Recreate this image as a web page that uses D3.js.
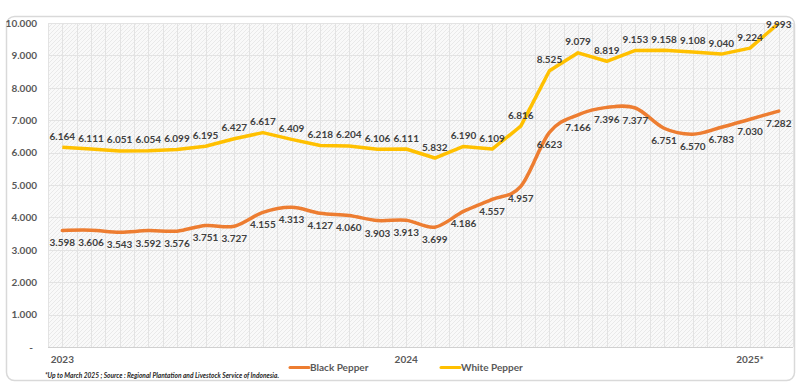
<!DOCTYPE html>
<html>
<head>
<meta charset="utf-8">
<script src="https://cdn.jsdelivr.net/npm/d3@7"></script>
<style>
	body { margin: 0; background: #fff; }
	svg { display: block; font-family: Lato, "Open Sans", sans-serif; }
</style>
</head>
<body>
<svg id="chart"></svg>
<script>
// monthly prices, Jan 2023 .. Feb 2025
var periods = [
	"Jan-23", "Feb-23", "Mar-23", "Apr-23", "May-23", "Jun-23", "Jul-23", "Aug-23", "Sep-23", "Oct-23", "Nov-23", "Dec-23",
	"Jan-24", "Feb-24", "Mar-24", "Apr-24", "May-24", "Jun-24", "Jul-24", "Aug-24", "Sep-24", "Oct-24", "Nov-24", "Dec-24",
	"Jan-25", "Feb-25"
];
var blackPepper = [
	3598, 3606, 3543, 3592, 3576, 3751, 3727, 4155, 4313, 4127, 4060, 3903, 3913,
	3699, 4186, 4557, 4957, 6623, 7166, 7396, 7377, 6751, 6570, 6783, 7030, 7282
];
var whitePepper = [
	6164, 6111, 6051, 6054, 6099, 6195, 6427, 6617, 6409, 6218, 6204, 6106, 6111,
	5832, 6190, 6109, 6816, 8525, 9079, 8819, 9153, 9158, 9108, 9040, 9224, 9993
];
var yearTicks = ["Jan-23", "Jan-24", "Jan-25"];
var yearLabels = ["2023", "2024", "2025*"];
var yTicks = [0, 1000, 2000, 3000, 4000, 5000, 6000, 7000, 8000, 9000, 10000];
var seriesNames = ["Black Pepper", "White Pepper"];
var footnote = "*Up to March 2025 ; Source : Regional Plantation and Livestock Service of Indonesia.";

var width = 800,
	height = 390;
var margin = { top: 23, right: 7, bottom: 43, left: 48 };

var svg = d3.select("#chart").attr("width", width).attr("height", height);

var defs = svg.append("defs");
var hatch = defs.append("pattern").attr("id", "hatch").attr("patternUnits", "userSpaceOnUse")
	.attr("width", 4).attr("height", 4);
hatch.append("rect").attr("width", 4).attr("height", 4).attr("fill", "#f9f9f9");
hatch.append("path").attr("d", "M-1,1 l2,-2 M0,4 l4,-4 M3,5 l2,-2")
	.attr("stroke", "#e9e9e9").attr("stroke-width", 1);

// card
svg.append("rect").attr("x", 6.5).attr("y", 16.5).attr("width", 788).attr("height", 364)
	.attr("rx", 8).attr("fill", "#fff").attr("stroke", "#d9d9d9").attr("stroke-width", 1.5);

var fmt = d3.formatLocale({ decimal: ",", thousands: ".", grouping: [3], currency: ["", ""] }).format(",.0f");

var x = d3.scaleBand().domain(periods).range([margin.left, width - margin.right]);
var y = d3.scaleLinear().domain([0, 10000]).range([height - margin.bottom, margin.top]);
var cx = (d) => x(d) + x.bandwidth() / 2;

// plot background + grid
svg.append("rect").attr("x", margin.left).attr("y", margin.top)
	.attr("width", width - margin.right - margin.left).attr("height", y(0) - margin.top)
	.attr("fill", "url(#hatch)");

var half = x.bandwidth() / 2;
var grid = svg.append("g").attr("stroke", "#e3e3e3").attr("stroke-width", 1);
d3.range(periods.length * 2 + 1).forEach((k) => {
	var gx = Math.round(margin.left + k * half) + 0.5;
	grid.append("line").attr("x1", gx).attr("x2", gx).attr("y1", y(10000)).attr("y2", y(0));
});
grid.selectAll(".h").data(yTicks).enter().append("line")
	.attr("x1", margin.left).attr("x2", width - margin.right)
	.attr("y1", (d) => Math.round(y(d)) + 0.5).attr("y2", (d) => Math.round(y(d)) + 0.5)
	.attr("stroke", (d) => (d === 0 ? "#d0d0d0" : "#e3e3e3"));

// axes
var yAxis = svg.append("g").attr("transform", `translate(${margin.left},0)`)
	.call(d3.axisLeft(y).tickValues(yTicks).tickSize(0).tickPadding(11)
		.tickFormat((d) => (d === 0 ? "-" : fmt(d))));
yAxis.select(".domain").remove();
yAxis.selectAll("text").attr("fill", "#595959").attr("font-size", 10).attr("font-weight", "bold")
	.attr("font-family", "Lato, sans-serif")
	.attr("dx", (d) => (d === 0 ? -4 : 0));

var xAxis = svg.append("g").attr("transform", `translate(0,${y(0)})`)
	.call(d3.axisBottom(x).tickValues(yearTicks).tickSize(0).tickPadding(9)
		.tickFormat((d) => yearLabels[yearTicks.indexOf(d)]));
xAxis.select(".domain").remove();
xAxis.selectAll("text").attr("fill", "#595959").attr("font-size", 10).attr("font-weight", "bold")
	.attr("font-family", "Lato, sans-serif");

// lines
var colors = ["#ED7D31", "#FFC000"];
var whiteLine = d3.line().x((d, i) => cx(periods[i])).y((d) => y(d));
var blackLine = d3.line().x((d, i) => cx(periods[i])).y((d) => y(d)).curve(d3.curveCardinal.tension(0));

svg.append("path").attr("d", whiteLine(whitePepper)).attr("fill", "none")
	.attr("stroke", colors[1]).attr("stroke-width", 3.5).attr("stroke-linejoin", "round");
svg.append("path").attr("d", blackLine(blackPepper)).attr("fill", "none")
	.attr("stroke", colors[0]).attr("stroke-width", 3.5).attr("stroke-linecap", "round");

// data labels
var lbl = svg.append("g").attr("font-size", 10).attr("font-weight", "bold").attr("fill", "#404040")
	.attr("text-anchor", "middle");
lbl.selectAll(".w").data(whitePepper).enter().append("text")
	.attr("x", (d, i) => cx(periods[i]))
	.attr("y", (d) => Math.max(y(d) - 11, margin.top + 1))
	.attr("dy", "0.35em")
	.text((d) => fmt(d));
lbl.selectAll(".b").data(blackPepper).enter().append("text")
	.attr("x", (d, i) => cx(periods[i]))
	.attr("y", (d) => y(d) + 12.5)
	.attr("dy", "0.35em")
	.text((d) => fmt(d));

// legend
var legend = svg.append("g").attr("font-size", 10).attr("fill", "#595959").attr("font-weight", "bold");
[290, 441].forEach((lx, i) => {
	legend.append("line").attr("x1", lx).attr("x2", lx + 19).attr("y1", 367.5).attr("y2", 367.5)
		.attr("stroke", colors[i]).attr("stroke-width", 3).attr("stroke-linecap", "round");
	legend.append("text").attr("x", lx + 20).attr("y", 367.5).attr("dy", "0.35em").text(seriesNames[i]);
});

svg.append("text").attr("x", 45).attr("y", 375.5).attr("dy", "0.35em")
	.attr("font-size", 6.6).attr("font-style", "italic").attr("font-weight", "bold")
	.attr("fill", "#262626").text(footnote);
</script>
</body>
</html>
